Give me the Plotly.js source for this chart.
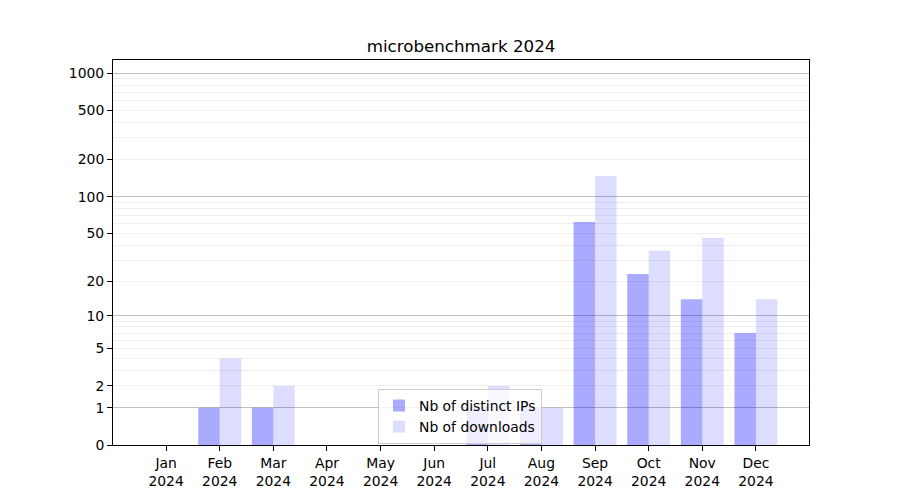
<!DOCTYPE html>
<html>
<head>
<meta charset="utf-8">
<script src="https://cdn.plot.ly/plotly-3.0.1.min.js"></script>
<style>html,body{margin:0;padding:0;background:#fff;}#chart{width:900px;height:500px;}</style>
</head>
<body>
<div id="chart"></div>
<script>
// ---- data ----
const months = ['Jan','Feb','Mar','Apr','May','Jun','Jul','Aug','Sep','Oct','Nov','Dec'];
const year = '2024';
const distinctIPs = [0, 1, 1, 0, 0, 0, 1, 1, 62, 23, 14, 7];
const downloads   = [0, 4, 2, 0, 0, 0, 2, 1, 147, 36, 46, 14];
const yTickValues = [0, 1, 2, 5, 10, 20, 50, 100, 200, 500, 1000];
const majorGridValues = [1, 10, 100, 1000];
const minorGridValues = [2,3,4,5,6,7,8,9,20,30,40,50,60,70,80,90,200,300,400,500,600,700,800,900];

// y scale is log10(value + 1)
const shift = v => v + 1;
const labels = months.map(m => m + '<br>' + year);
const xIdx = months.map((m, i) => i);

const font = {family: 'DejaVu Sans, sans-serif', size: 13.9, color: '#000'};

const traces = [
  {type: 'bar', name: 'Nb of distinct IPs', x: xIdx, y: distinctIPs.map(shift),
   marker: {color: 'rgba(0,0,255,0.333)', line: {width: 0}}, hoverinfo: 'skip'},
  {type: 'bar', name: 'Nb of downloads', x: xIdx, y: downloads.map(shift),
   marker: {color: 'rgba(0,0,255,0.133)', line: {width: 0}}, hoverinfo: 'skip'}
];

const yRange = [0, 3.107];
const layout = {
  width: 900, height: 500,
  margin: {l: 113, r: 91, t: 60, b: 55, pad: 0},
  paper_bgcolor: '#fff', plot_bgcolor: '#fff',
  font: font,
  title: {text: 'microbenchmark 2024', font: {family: 'DejaVu Sans, sans-serif', size: 16.7, color: '#000'},
          x: 0.5, xref: 'paper', xanchor: 'center', y: 1 - 46/500, yref: 'container', yanchor: 'middle'},
  barmode: 'group', bargap: 0.2, bargroupgap: 0,
  showlegend: true,
  legend: {x: (378-113)/696, y: (445-389)/385, xanchor: 'left', yanchor: 'top',
           bgcolor: 'rgba(255,255,255,0.8)', bordercolor: '#cccccc', borderwidth: 1,
           font: font, tracegroupgap: 0},
  xaxis: {
    range: [-0.99, 11.99], tickmode: 'array', tickvals: xIdx, ticktext: labels,
    showgrid: false, zeroline: false,
    showline: true, mirror: true, linecolor: '#000', linewidth: 1,
    ticks: 'outside', ticklen: 5, tickwidth: 1, tickcolor: '#000', tickfont: font
  },
  yaxis: {
    type: 'log', range: yRange, tickmode: 'array',
    tickvals: yTickValues.map(shift), ticktext: yTickValues.map(String),
    showgrid: false, zeroline: false,
    showline: true, mirror: true, linecolor: '#000', linewidth: 1,
    ticks: 'outside', ticklen: 5, tickwidth: 1, tickcolor: '#000', tickfont: font
  },
  yaxis2: {
    type: 'log', range: yRange, overlaying: 'y', anchor: 'x', tickmode: 'array',
    tickvals: minorGridValues.map(shift), showticklabels: false, ticks: '',
    showgrid: true, gridcolor: '#ebebeb', gridwidth: 0.8, showline: false, zeroline: false
  },
  yaxis3: {
    type: 'log', range: yRange, overlaying: 'y', anchor: 'x', tickmode: 'array',
    tickvals: majorGridValues.map(shift), showticklabels: false, ticks: '',
    showgrid: true, gridcolor: '#b0b0b0', gridwidth: 0.8, showline: false, zeroline: false
  }
};

// invisible helper traces so overlay axes are drawn
traces.push({type: 'scatter', x: [], y: [], yaxis: 'y2', showlegend: false, hoverinfo: 'skip'});
traces.push({type: 'scatter', x: [], y: [], yaxis: 'y3', showlegend: false, hoverinfo: 'skip'});

Plotly.newPlot('chart', traces, layout, {staticPlot: true, displayModeBar: false});
</script>
</body>
</html>
